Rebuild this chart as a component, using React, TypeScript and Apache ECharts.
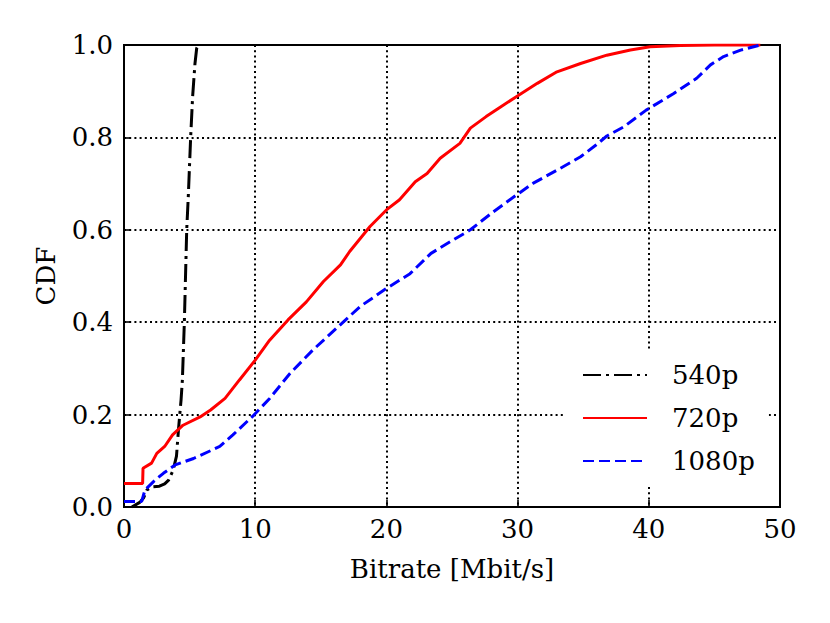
import React, { useEffect, useRef } from "react";
import * as echarts from "echarts";

const xTicks = [0, 10, 20, 30, 40, 50];
const yTicks = [0, 0.2, 0.4, 0.6, 0.8, 1.0];

const seriesNames = ["540p", "720p", "1080p"];

const x540 = [0.6, 1.2, 1.5, 1.75, 2.2, 2.7, 3.1, 3.4, 3.75, 4.0, 4.15, 4.25, 4.35, 4.45, 4.6, 4.78, 4.9, 5.08, 5.23, 5.41, 5.54, 5.67];
const y540 = [0.0, 0.01, 0.02, 0.037, 0.044, 0.045, 0.05, 0.058, 0.08, 0.11, 0.167, 0.2, 0.232, 0.275, 0.4, 0.6, 0.672, 0.8, 0.888, 0.96, 0.993, 1.0];

const x720 = [0, 1.42, 1.45, 2.1, 2.5, 3.1, 3.7, 4.5, 5.8, 6.6, 7.7, 8.8, 10.0, 11.1, 12.5, 13.9, 15.2, 16.5, 17.2, 18.75, 20.0, 21.0, 22.2, 23.1, 24.1, 25.6, 26.4, 27.6, 28.7, 29.9, 31.5, 33.0, 34.8, 36.8, 38.6, 40.1, 42.4, 45.0, 48.5];
const y720 = [0.051, 0.051, 0.084, 0.095, 0.116, 0.131, 0.156, 0.177, 0.195, 0.21, 0.235, 0.275, 0.318, 0.361, 0.405, 0.444, 0.488, 0.524, 0.553, 0.607, 0.643, 0.665, 0.704, 0.722, 0.755, 0.787, 0.82, 0.845, 0.866, 0.888, 0.917, 0.942, 0.96, 0.978, 0.989, 0.996, 0.999, 1.0, 1.0];

const x1080 = [0, 1.35, 1.6, 2.25, 3.0, 3.9, 5.3, 7.3, 8.3, 9.9, 11.1, 12.65, 14.4, 16.2, 18.0, 20.0, 21.8, 23.4, 24.85, 26.4, 28.15, 29.9, 31.2, 33.0, 34.8, 36.0, 36.8, 38.1, 39.8, 41.9, 43.65, 44.7, 45.7, 47.0, 48.5];
const y1080 = [0.012, 0.012, 0.037, 0.055, 0.073, 0.091, 0.105, 0.131, 0.156, 0.199, 0.235, 0.289, 0.34, 0.387, 0.434, 0.473, 0.505, 0.549, 0.574, 0.6, 0.639, 0.675, 0.701, 0.729, 0.758, 0.784, 0.803, 0.823, 0.859, 0.895, 0.928, 0.957, 0.975, 0.989, 1.0];

const FONT = "'DejaVu Serif', 'Liberation Serif', serif";
const FS = 26;

const pairs = (xs: number[], ys: number[]) => xs.map((x, i) => [x, ys[i]]);

export default function App() {
  const ref = useRef<HTMLDivElement>(null);
  useEffect(() => {
    if (!ref.current) return;
    const chart = echarts.init(ref.current, undefined, { renderer: "svg" });
    const splitLine = { show: true, lineStyle: { color: "#000", width: 2, type: [2, 3.2] as any } };
    chart.setOption({
      animation: false,
      backgroundColor: "#fff",
      textStyle: { fontFamily: FONT, color: "#000" },
      grid: { left: 124, top: 45, width: 656, height: 462, show: true, borderColor: "#000", borderWidth: 2, backgroundColor: "transparent" },
      xAxis: {
        type: "value",
        min: xTicks[0],
        max: xTicks[xTicks.length - 1],
        interval: 10,
        name: "Bitrate [Mbit/s]",
        nameLocation: "middle",
        nameGap: 49,
        nameTextStyle: { fontFamily: FONT, fontSize: FS, color: "#000" },
        axisLine: { show: true, lineStyle: { color: "#000", width: 2 } },
        axisTick: { show: true, inside: true, length: 7, lineStyle: { color: "#000", width: 1.6 } },
        axisLabel: { fontFamily: FONT, fontSize: FS, color: "#000", margin: 9, formatter: (v: number) => String(v) },
        splitLine,
      },
      yAxis: {
        type: "value",
        min: yTicks[0],
        max: yTicks[yTicks.length - 1],
        interval: 0.2,
        name: "CDF",
        nameLocation: "middle",
        nameGap: 65,
        nameTextStyle: { fontFamily: FONT, fontSize: FS, color: "#000" },
        axisLine: { show: true, lineStyle: { color: "#000", width: 2 } },
        axisTick: { show: true, inside: true, length: 7, lineStyle: { color: "#000", width: 1.6 } },
        axisLabel: { fontFamily: FONT, fontSize: FS, color: "#000", margin: 11, formatter: (v: number) => v.toFixed(1) },
        splitLine,
      },
      legend: {
        orient: "vertical",
        left: 563,
        top: 350,
        padding: [12, 14, 10, 19],
        itemWidth: 64,
        itemHeight: 28,
        itemGap: 17,
        backgroundColor: "#fff",
        selectedMode: false,
        itemStyle: { opacity: 0 },
        textStyle: { fontFamily: FONT, fontSize: FS, color: "#000", padding: [0, 0, 0, 20] },
        data: seriesNames,
      },
      series: [
        {
          name: seriesNames[0],
          type: "line",
          data: pairs(x540, y540),
          symbol: "none",
          lineStyle: { color: "#000", width: 3, type: [18, 5, 3, 5] },
          itemStyle: { color: "#000" },
        },
        {
          name: seriesNames[1],
          type: "line",
          data: pairs(x720, y720),
          symbol: "none",
          lineStyle: { color: "#ff0000", width: 3, type: "solid" },
          itemStyle: { color: "#ff0000" },
        },
        {
          name: seriesNames[2],
          type: "line",
          data: pairs(x1080, y1080),
          symbol: "none",
          lineStyle: { color: "#0000ff", width: 3, type: [11, 5] },
          itemStyle: { color: "#0000ff" },
        },
      ],
    });
    return () => chart.dispose();
  }, []);
  return <div ref={ref} style={{ position: "absolute", left: 0, top: 0, width: 830, height: 623 }} />;
}
